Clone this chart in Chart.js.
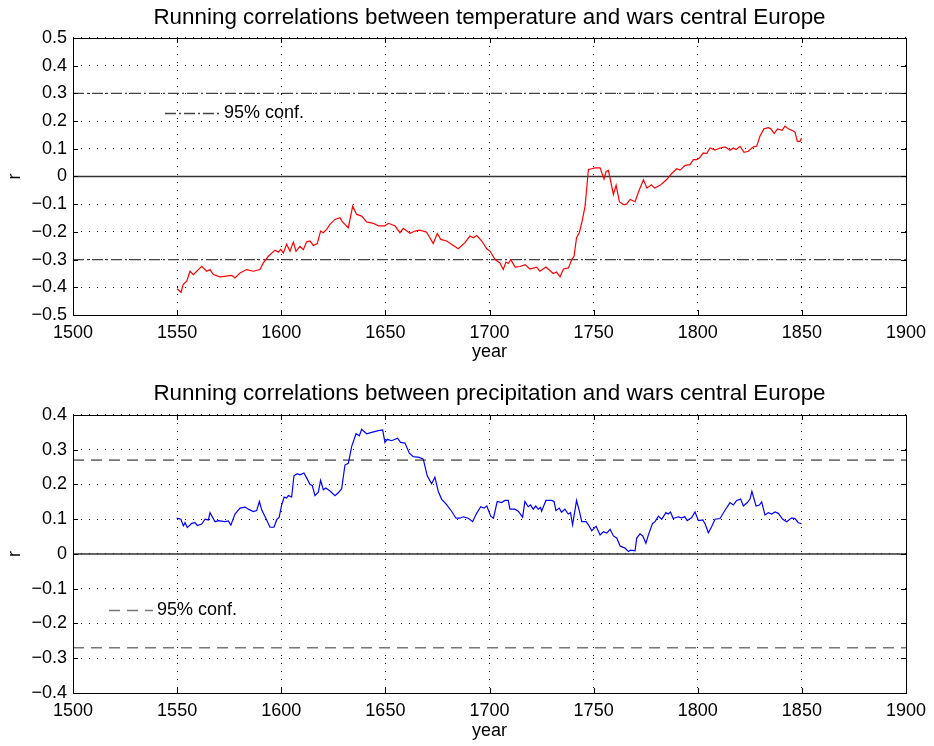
<!DOCTYPE html>
<html lang="en">
<head>
  <meta charset="utf-8">
  <title>Running correlations between climate and wars</title>
  <style>
    body { margin: 0; background: white; }
    canvas { display: block; }
  </style>
</head>
<body>
  <canvas id="tempChart" width="934" height="373"></canvas>
  <canvas id="precChart" width="934" height="373"></canvas>

  <script src="https://cdn.jsdelivr.net/npm/chart.js@4.4.1/dist/chart.umd.min.js"></script>
  <script>
    // running correlation, temperature vs wars
    var tempYears = [1550.0, 1551.9, 1552.9, 1554.6, 1556.2, 1557.8, 1561.8, 1564.2, 1565.8, 1567.4,
      1570.6, 1576.2, 1577.8, 1580.2, 1583.4, 1586.6, 1589.8, 1591.4, 1593.8, 1597.0,
      1598.6, 1599.7, 1601.0, 1602.6, 1604.2, 1605.8, 1607.1, 1609.0, 1610.6, 1612.2,
      1613.8, 1615.4, 1617.3, 1618.9, 1620.2, 1621.8, 1623.4, 1625.8, 1628.2, 1629.4,
      1632.2, 1634.3, 1636.2, 1638.6, 1641.0, 1644.2, 1646.6, 1649.8, 1651.4, 1654.6,
      1657.0, 1658.6, 1661.8, 1664.2, 1666.6, 1669.8, 1673.0, 1674.9, 1676.6, 1679.4,
      1685.0, 1688.2, 1690.6, 1692.2, 1693.9, 1696.3, 1698.7, 1700.3, 1702.7, 1705.0,
      1706.6, 1707.9, 1709.0, 1710.2, 1712.3, 1714.7, 1717.1, 1719.4, 1722.6, 1724.2,
      1727.1, 1730.6, 1732.2, 1733.9, 1735.5, 1737.9, 1739.5, 1740.6, 1741.8, 1743.1,
      1744.3, 1745.9, 1747.5, 1748.6, 1750.7, 1753.1, 1755.0, 1756.0, 1757.1, 1759.5,
      1760.8, 1762.4, 1764.6, 1765.9, 1767.5, 1769.9, 1771.5, 1773.9, 1775.6, 1777.7,
      1779.3, 1781.9, 1785.1, 1787.5, 1789.9, 1791.5, 1793.9, 1796.3, 1797.9, 1799.5,
      1800.8, 1802.7, 1804.3, 1805.9, 1808.3, 1810.7, 1813.1, 1815.5, 1817.1, 1818.4,
      1820.3, 1822.2, 1824.3, 1826.7, 1828.3, 1829.9, 1831.8, 1833.9, 1835.1, 1836.7,
      1838.3, 1840.5, 1841.9, 1843.5, 1845.9, 1846.7, 1847.8, 1849.1, 1849.9];
    var tempR = [-0.405, -0.418, -0.39, -0.378, -0.342, -0.354, -0.324, -0.342, -0.336, -0.354,
      -0.362, -0.357, -0.366, -0.348, -0.336, -0.342, -0.336, -0.312, -0.288, -0.266,
      -0.273, -0.263, -0.276, -0.245, -0.27, -0.237, -0.27, -0.252, -0.264, -0.236,
      -0.233, -0.249, -0.242, -0.197, -0.203, -0.191, -0.173, -0.155, -0.149, -0.164,
      -0.185, -0.107, -0.137, -0.143, -0.164, -0.169, -0.178, -0.178, -0.169, -0.178,
      -0.203, -0.187, -0.205, -0.197, -0.194, -0.201, -0.242, -0.206, -0.227, -0.233,
      -0.261, -0.239, -0.215, -0.221, -0.213, -0.233, -0.261, -0.27, -0.3, -0.312,
      -0.336, -0.309, -0.314, -0.3, -0.327, -0.325, -0.318, -0.334, -0.327, -0.342,
      -0.327, -0.35, -0.345, -0.362, -0.334, -0.33, -0.3, -0.288, -0.221, -0.203,
      -0.167, -0.107, 0.025, 0.027, 0.031, 0.031, -0.009, 0.018, 0.022, -0.065,
      -0.032, -0.092, -0.102, -0.099, -0.083, -0.091, -0.057, -0.012, -0.042, -0.03,
      -0.042, -0.032, -0.011, 0.011, 0.028, 0.023, 0.04, 0.043, 0.061, 0.061,
      0.067, 0.085, 0.083, 0.103, 0.095, 0.103, 0.107, 0.095, 0.103, 0.097,
      0.109, 0.087, 0.091, 0.107, 0.109, 0.146, 0.172, 0.176, 0.172, 0.155,
      0.172, 0.167, 0.182, 0.172, 0.164, 0.16, 0.127, 0.127, 0.139];

    // running correlation, precipitation vs wars
    var precYears = [1549.8, 1551.8, 1553.0, 1553.8, 1554.9, 1557.0, 1558.6, 1559.7, 1561.8, 1563.4,
      1565.0, 1565.8, 1568.2, 1569.8, 1573.0, 1574.6, 1575.8, 1577.8, 1580.2, 1582.6,
      1584.2, 1586.6, 1588.2, 1589.5, 1590.6, 1593.0, 1594.6, 1596.5, 1597.8, 1599.0,
      1600.2, 1601.4, 1602.6, 1603.4, 1605.0, 1606.1, 1607.7, 1609.0, 1610.9, 1612.2,
      1613.8, 1614.9, 1616.2, 1617.8, 1618.9, 1620.2, 1621.4, 1623.4, 1625.8, 1627.4,
      1629.0, 1630.6, 1632.2, 1633.8, 1635.9, 1637.5, 1638.6, 1641.0, 1643.4, 1646.6,
      1648.7, 1649.8, 1650.9, 1653.0, 1655.8, 1657.3, 1659.4, 1661.5, 1663.4, 1666.3,
      1668.2, 1670.1, 1672.2, 1673.8, 1675.4, 1677.0, 1679.4, 1681.8, 1683.9, 1685.8,
      1687.4, 1689.8, 1691.9, 1693.8, 1695.8, 1697.4, 1698.7, 1700.6, 1701.9, 1703.7,
      1705.8, 1707.4, 1709.0, 1709.8, 1712.2, 1713.8, 1715.9, 1717.0, 1718.6, 1719.7,
      1721.0, 1722.2, 1723.4, 1724.5, 1725.0, 1727.1, 1729.8, 1731.0, 1731.9, 1733.5,
      1734.6, 1736.2, 1737.8, 1738.9, 1739.9, 1741.8, 1743.1, 1744.3, 1746.4, 1747.5,
      1749.1, 1751.2, 1753.1, 1754.7, 1756.3, 1757.9, 1759.5, 1761.1, 1762.7, 1765.1,
      1766.7, 1767.8, 1769.9, 1770.7, 1772.3, 1773.6, 1775.1, 1776.3, 1778.3, 1779.5,
      1781.1, 1782.7, 1784.7, 1785.8, 1786.9, 1788.2, 1790.6, 1792.2, 1793.8, 1794.9,
      1797.0, 1798.7, 1800.3, 1802.4, 1803.5, 1805.1, 1806.7, 1808.3, 1810.7, 1813.1,
      1815.5, 1817.1, 1818.7, 1820.6, 1821.9, 1823.8, 1825.1, 1826.0, 1828.0, 1829.6,
      1830.7, 1832.3, 1833.9, 1835.5, 1837.1, 1838.7, 1840.8, 1842.7, 1845.1, 1846.7,
      1848.3, 1849.9];
    var precR = [0.103, 0.1, 0.081, 0.09, 0.076, 0.088, 0.09, 0.082, 0.086, 0.1,
      0.098, 0.119, 0.093, 0.096, 0.093, 0.095, 0.083, 0.115, 0.132, 0.135,
      0.129, 0.122, 0.125, 0.151, 0.127, 0.098, 0.077, 0.077, 0.098, 0.106,
      0.141, 0.164, 0.161, 0.168, 0.164, 0.225, 0.231, 0.228, 0.233, 0.219,
      0.2, 0.197, 0.168, 0.178, 0.212, 0.185, 0.19, 0.181, 0.168, 0.176,
      0.188, 0.256, 0.261, 0.309, 0.346, 0.34, 0.359, 0.346, 0.35, 0.355,
      0.357, 0.321, 0.33, 0.326, 0.333, 0.321, 0.319, 0.29, 0.28, 0.278,
      0.273, 0.225, 0.202, 0.221, 0.18, 0.158, 0.142, 0.123, 0.103, 0.103,
      0.107, 0.103, 0.093, 0.117, 0.136, 0.132, 0.138, 0.109, 0.103, 0.151,
      0.148, 0.154, 0.154, 0.129, 0.129, 0.123, 0.106, 0.151, 0.136, 0.141,
      0.129, 0.138, 0.129, 0.134, 0.123, 0.154, 0.154, 0.151, 0.125, 0.132,
      0.12, 0.129, 0.115, 0.119, 0.084, 0.154, 0.125, 0.093, 0.093, 0.084,
      0.067, 0.08, 0.055, 0.064, 0.06, 0.071, 0.052, 0.046, 0.023, 0.017,
      0.007, 0.011, 0.009, 0.046, 0.058, 0.052, 0.031, 0.055, 0.088, 0.093,
      0.109, 0.1, 0.119, 0.115, 0.121, 0.102, 0.107, 0.104, 0.107, 0.096,
      0.104, 0.121, 0.096, 0.098, 0.087, 0.061, 0.079, 0.1, 0.102, 0.126,
      0.148, 0.141, 0.154, 0.158, 0.138, 0.148, 0.158, 0.18, 0.138, 0.141,
      0.15, 0.112, 0.119, 0.115, 0.121, 0.117, 0.1, 0.093, 0.104, 0.102,
      0.09, 0.087];

    var tempConf = 0.3;   // 95% confidence level, temperature panel
    var precConf = 0.27;  // 95% confidence level, precipitation panel
    var xTicks = { min: 1500, max: 1900, step: 50 };

    var fontFamily = "'Liberation Sans', Arial, Helvetica, sans-serif";

    function pts(xs, ys) {
      return xs.map(function (x, i) { return { x: x, y: ys[i] }; });
    }
    function flat(v) {
      return [{ x: xTicks.min, y: v }, { x: xTicks.max, y: v }];
    }
    function fmtR(v) {
      var s = Math.abs(v) < 1e-9 ? '0' : Math.abs(v).toFixed(1);
      return v < -1e-9 ? '\u2212' + s : s;
    }

    // box round the plot with small inward ticks, matlab style
    var boxPlugin = {
      id: 'box',
      afterDatasetsDraw: function (chart) {
        var a = chart.chartArea, c = chart.ctx;
        c.save();
        c.strokeStyle = '#000';
        c.lineWidth = 1;
        c.setLineDash([]);
        c.beginPath();
        chart.scales.x.ticks.forEach(function (t) {
          var px = Math.round(chart.scales.x.getPixelForValue(t.value)) + 0.5;
          c.moveTo(px, a.top); c.lineTo(px, a.top + 5);
          c.moveTo(px, a.bottom); c.lineTo(px, a.bottom - 5);
        });
        chart.scales.y.ticks.forEach(function (t) {
          var py = Math.round(chart.scales.y.getPixelForValue(t.value)) + 0.5;
          c.moveTo(a.left, py); c.lineTo(a.left + 5, py);
          c.moveTo(a.right, py); c.lineTo(a.right - 5, py);
        });
        c.stroke();
        c.strokeRect(Math.round(a.left) + 0.5, Math.round(a.top) + 0.5,
          Math.round(a.right - a.left), Math.round(a.bottom - a.top));
        c.restore();
      }
    };

    // little "95% conf." key inside the axes
    var keyPlugin = {
      id: 'confKey',
      afterDatasetsDraw: function (chart, args, opts) {
        var a = chart.chartArea, c = chart.ctx;
        var ds = chart.data.datasets[opts.dataset];
        var y = Math.round(a.top + opts.dy) + 0.5;
        c.save();
        c.strokeStyle = ds.borderColor;
        c.lineWidth = ds.borderWidth;
        c.setLineDash(ds.borderDash || []);
        c.beginPath();
        c.moveTo(a.left + opts.dx, y);
        c.lineTo(a.left + opts.dx + opts.len, y);
        c.stroke();
        c.fillStyle = '#000';
        c.font = '18px ' + fontFamily;
        c.textBaseline = 'middle';
        c.fillText(ds.label, a.left + opts.dx + opts.len + 4, y);
        c.restore();
      }
    };

    function makeChart(id, o) {
      var ctx = document.getElementById(id).getContext('2d');
      return new Chart(ctx, {
        type: 'scatter',
        data: {
          datasets: [
            { label: 'r', data: pts(o.years, o.values), showLine: true, borderColor: o.color,
              borderWidth: 1.2, pointRadius: 0, tension: 0, order: 0 },
            { label: '95% conf.', data: flat(o.conf), showLine: true, borderColor: o.confColor,
              borderWidth: o.confWidth, borderDash: o.confDash, pointRadius: 0, order: 1 },
            { label: '95% conf. (neg)', data: flat(-o.conf), showLine: true, borderColor: o.confColor,
              borderWidth: o.confWidth, borderDash: o.confDash, pointRadius: 0, order: 1 },
            { label: 'zero', data: flat(0), showLine: true, borderColor: '#333',
              borderWidth: 1.5, pointRadius: 0, order: 2 }
          ]
        },
        options: {
          responsive: false,
          animation: false,
          layout: { padding: { left: 0, right: 28, top: 0, bottom: 0 } },
          plugins: {
            legend: { display: false },
            tooltip: { enabled: false },
            title: {
              display: true, text: o.title, color: '#000', fullSize: false,
              font: { family: fontFamily, size: 22.4, weight: 'normal' },
              padding: { top: o.titleTop, bottom: o.titleBottom }
            },
            confKey: o.key
          },
          scales: {
            x: {
              type: 'linear', min: xTicks.min, max: xTicks.max,
              afterFit: function (s) { s.height = o.xAxisH; },
              ticks: { stepSize: xTicks.step, color: '#000', padding: 7,
                font: { family: fontFamily, size: 18 },
                callback: function (v) { return String(v); } },
              grid: { color: '#000', lineWidth: 1, drawTicks: false },
              border: { display: false, dash: [1, 7] },
              title: { display: true, text: 'year', color: '#000',
                font: { family: fontFamily, size: 18 }, padding: { top: 0, bottom: o.yearPad } }
            },
            y: {
              min: o.yMin, max: o.yMax,
              afterFit: function (s) { s.width = 73; },
              ticks: { stepSize: 0.1, color: '#000', padding: 6,
                font: { family: fontFamily, size: 18 },
                callback: function (v) { return fmtR(v); } },
              grid: { color: '#000', lineWidth: 1, drawTicks: false },
              border: { display: false, dash: [1, 7] },
              title: { display: true, text: 'r', color: '#000',
                font: { family: fontFamily, size: 18 }, padding: { top: 4, bottom: 0 } }
            }
          }
        },
        plugins: [boxPlugin, keyPlugin]
      });
    }

    makeChart('tempChart', {
      title: 'Running correlations between temperature and wars central Europe',
      years: tempYears, values: tempR, color: '#ff0000',
      conf: tempConf, confColor: '#444', confWidth: 1.3, confDash: [11, 3, 2, 3],
      yMin: -0.5, yMax: 0.5,
      titleTop: 4, titleBottom: 7.1, xAxisH: 58, yearPad: 10,
      key: { dataset: 1, dx: 92, dy: 75, len: 55 }
    });

    makeChart('precChart', {
      title: 'Running correlations between precipitation and wars central Europe',
      years: precYears, values: precR, color: '#0000ff',
      conf: precConf, confColor: '#777', confWidth: 1.6, confDash: [11, 7],
      yMin: -0.4, yMax: 0.4,
      titleTop: 7, titleBottom: 8.1, xAxisH: 53, yearPad: 4,
      key: { dataset: 1, dx: 36, dy: 195, len: 44 }
    });
  </script>
</body>
</html>
